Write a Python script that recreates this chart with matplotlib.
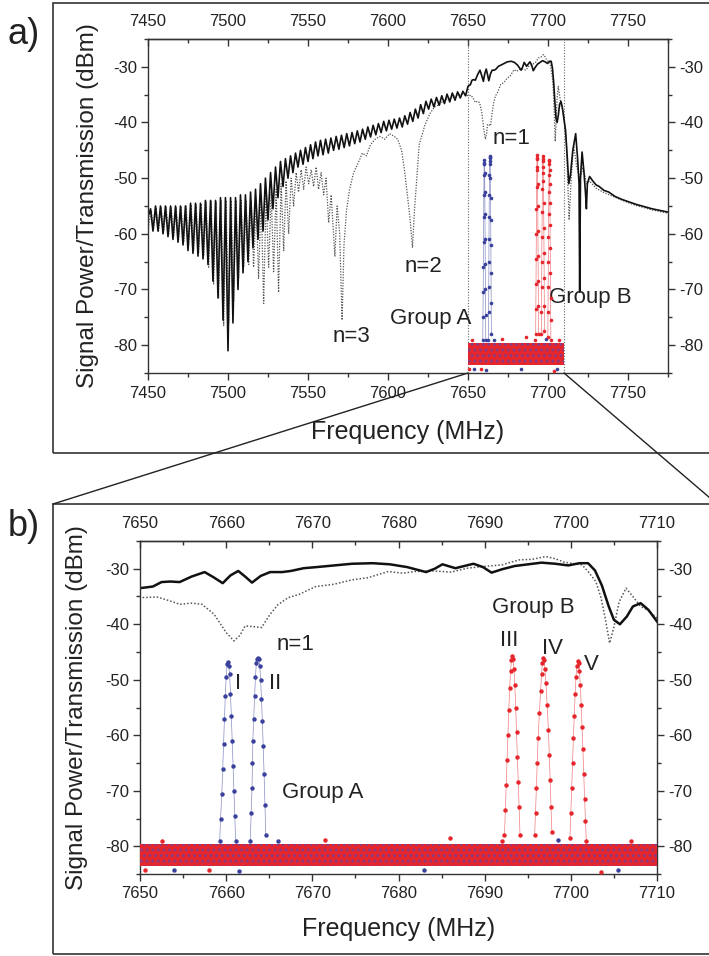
import matplotlib
matplotlib.use("Agg")
import matplotlib.pyplot as plt
from matplotlib.ticker import MultipleLocator, FixedLocator
from matplotlib.patches import Rectangle, ConnectionPatch

plt.rcParams["font.family"] = ["Liberation Sans", "DejaVu Sans"]
plt.rcParams["axes.unicode_minus"] = False
plt.rcParams["hatch.linewidth"] = 1.3

# signal power (solid) -- fringe maxima/minima, detail from panel b
solid_freq = [
    7450.0, 7451.6, 7453.1, 7454.7, 7456.25, 7457.8, 7459.4, 7460.9, 7462.5, 7464.1,
    7465.6, 7467.2, 7468.75, 7470.3, 7471.9, 7473.4, 7475.0, 7476.6, 7478.1, 7479.7,
    7481.25, 7482.8, 7484.4, 7485.9, 7487.5, 7489.1, 7490.6, 7492.2, 7493.75, 7495.3,
    7496.9, 7498.4, 7500.0, 7501.6, 7503.1, 7504.7, 7506.25, 7507.8, 7509.4, 7510.9,
    7512.5, 7514.1, 7515.6, 7517.2, 7518.75, 7520.3, 7521.9, 7523.4, 7525.0, 7526.6,
    7528.1, 7529.7, 7531.25, 7532.8, 7534.4, 7535.9, 7537.5, 7539.1, 7540.6, 7542.2,
    7543.75, 7545.3, 7546.9, 7548.4, 7550.0, 7551.6, 7553.1, 7554.7, 7556.25, 7557.8,
    7559.4, 7561.0, 7562.7, 7564.3, 7566.0, 7567.6, 7569.3, 7570.9, 7572.6, 7574.2,
    7575.9, 7577.5, 7579.2, 7580.8, 7582.5, 7584.1, 7585.8, 7587.4, 7589.1, 7590.7,
    7592.4, 7594.0, 7595.7, 7597.3, 7599.0, 7600.6, 7602.3, 7603.9, 7605.6, 7607.2,
    7608.9, 7610.5, 7612.2, 7613.8, 7615.5, 7617.1, 7618.8, 7620.4, 7622.1, 7623.7,
    7625.4, 7627.0, 7628.7, 7630.3, 7632.0, 7633.6, 7635.3, 7636.9, 7638.6, 7640.2,
    7641.9, 7643.5, 7645.2, 7646.8, 7648.5, 7650.0, 7651.5, 7652.5, 7653.5, 7654.6,
    7656.0, 7657.5, 7658.5, 7659.6, 7660.5, 7661.4, 7662.2, 7663.0, 7664.0, 7665.1,
    7666.5, 7667.5, 7669.0, 7670.5, 7672.5, 7674.6, 7677.0, 7679.0, 7681.0, 7683.2,
    7684.2, 7685.1, 7686.6, 7688.7, 7689.8, 7690.8, 7692.0, 7693.5, 7695.0, 7696.6,
    7698.2, 7699.7, 7701.0, 7702.0, 7702.8, 7703.6, 7704.4, 7705.0, 7705.7, 7706.5,
    7707.2, 7708.1, 7709.0, 7710.0, 7711.0, 7712.2, 7713.0, 7714.0, 7715.5, 7717.3,
    7718.5, 7719.4, 7719.8, 7720.3, 7721.3, 7722.5, 7723.5, 7724.0, 7724.6, 7726.0,
    7728.0, 7730.0, 7732.0, 7735.0, 7738.0, 7742.0, 7746.0, 7750.0, 7755.0, 7760.0,
    7765.0, 7770.0, 7775.0,
]
solid_db = [
    -57.0, -55.5, -59.5, -55.0, -59.5, -55.0, -60.0, -55.0, -60.5, -55.0,
    -61.0, -55.0, -61.5, -55.0, -62.0, -55.0, -63.0, -54.5, -63.5, -54.5,
    -64.0, -54.5, -64.5, -54.0, -65.5, -54.0, -68.5, -54.0, -71.5, -53.5,
    -75.5, -53.5, -81.0, -53.5, -76.0, -53.5, -70.0, -53.0, -67.0, -53.0,
    -65.0, -52.5, -62.5, -52.0, -61.0, -51.0, -59.5, -50.0, -57.5, -49.0,
    -55.5, -48.0, -53.5, -47.0, -51.5, -46.5, -50.0, -46.0, -49.0, -45.5,
    -48.0, -45.0, -47.5, -44.5, -47.0, -44.0, -46.5, -43.5, -46.0, -43.2,
    -45.8, -43.0, -45.5, -42.8, -45.0, -42.5, -44.8, -42.3, -44.5, -42.0,
    -44.2, -41.8, -43.8, -41.5, -43.5, -41.2, -43.0, -40.8, -42.6, -40.5,
    -42.2, -40.2, -41.8, -39.8, -41.5, -39.6, -41.2, -39.4, -41.0, -39.2,
    -40.8, -38.8, -40.3, -38.2, -39.8, -37.6, -39.2, -36.8, -38.4, -36.2,
    -37.6, -35.8, -37.2, -35.5, -36.9, -35.2, -36.6, -34.9, -36.3, -34.7,
    -36.0, -34.5, -35.6, -34.4, -35.2, -33.5, -33.2, -32.4, -32.3, -32.4,
    -31.4, -30.6, -31.5, -32.6, -31.2, -30.4, -31.4, -32.5, -31.3, -30.6,
    -30.6, -30.4, -29.9, -29.7, -29.4, -29.1, -29.0, -29.2, -29.7, -30.6,
    -30.0, -29.2, -29.9, -29.1, -29.7, -30.7, -30.1, -29.5, -29.2, -28.9,
    -29.1, -29.4, -29.0, -29.0, -30.3, -33.0, -36.8, -39.2, -40.0, -38.6,
    -36.8, -36.2, -37.4, -39.5, -41.5, -47.0, -51.0, -49.5, -45.0, -42.0,
    -46.5, -51.0, -70.5, -50.0, -45.3, -49.0, -53.0, -55.5, -51.0, -49.7,
    -50.5, -51.2, -51.5, -52.2, -52.5, -53.3, -53.8, -54.2, -54.7, -55.1,
    -55.5, -55.8, -56.1,
]

# transmission (dotted)
trans_freq = [
    7450.4, 7452.0, 7453.5, 7455.1, 7456.6, 7458.2, 7459.8, 7461.3, 7462.9, 7464.5,
    7466.0, 7467.6, 7469.1, 7470.7, 7472.3, 7473.8, 7475.4, 7477.0, 7478.5, 7480.1,
    7481.6, 7483.2, 7484.8, 7486.3, 7487.9, 7489.5, 7491.0, 7492.6, 7494.1, 7495.7,
    7497.3, 7498.8, 7500.4, 7502.0, 7503.5, 7505.1, 7506.6, 7508.2, 7509.8, 7511.3,
    7512.9, 7514.5, 7516.0, 7517.6, 7519.1, 7520.7, 7522.3, 7523.8, 7525.4, 7527.0,
    7528.5, 7530.1, 7531.6, 7533.2, 7534.8, 7536.3, 7537.9, 7539.5, 7541.0, 7542.6,
    7544.1, 7545.7, 7547.3, 7548.8, 7550.4, 7552.0, 7553.5, 7555.1, 7556.6, 7558.2,
    7559.8, 7561.3, 7562.9, 7564.5, 7566.8, 7568.2, 7569.8, 7571.3, 7572.5, 7574.0,
    7576.0, 7578.5, 7581.0, 7584.0, 7586.5, 7589.0, 7592.0, 7595.0, 7598.0, 7601.0,
    7604.0, 7606.0, 7608.5, 7610.5, 7612.5, 7614.0, 7615.3, 7616.5, 7618.0, 7619.5,
    7621.0, 7623.0, 7626.0, 7629.0, 7632.0, 7635.0, 7638.0, 7641.0, 7644.0, 7647.0,
    7650.0, 7652.0, 7653.5, 7654.6, 7656.0, 7657.2, 7658.6, 7660.0, 7660.9, 7661.6,
    7662.2, 7663.0, 7664.1, 7665.1, 7666.0, 7667.2, 7668.5, 7670.4, 7672.5, 7674.6,
    7676.5, 7678.8, 7680.5, 7681.9, 7684.0, 7686.1, 7688.0, 7689.8, 7692.0, 7694.0,
    7695.5, 7697.1, 7698.2, 7699.2, 7701.3, 7702.0, 7702.9, 7703.5, 7704.0, 7704.5,
    7705.0, 7705.6, 7706.4, 7707.2, 7708.1, 7709.0, 7710.0, 7711.5, 7712.5, 7713.2,
    7714.5, 7716.0, 7718.0, 7720.0, 7722.0, 7724.0, 7726.0, 7730.0, 7735.0, 7740.0,
    7745.0, 7750.0, 7755.0, 7760.0, 7765.0, 7770.0, 7775.0,
]
trans_db = [
    -58.5, -55.8, -59.0, -55.3, -59.5, -55.2, -59.5, -55.2, -60.0, -55.2,
    -60.5, -55.2, -61.0, -55.2, -61.5, -55.0, -62.0, -54.8, -63.0, -54.8,
    -63.5, -54.6, -64.0, -54.3, -66.0, -54.2, -69.0, -54.2, -71.5, -54.0,
    -76.5, -54.0, -76.0, -54.0, -72.0, -54.0, -68.0, -54.0, -66.0, -54.0,
    -65.5, -54.0, -66.0, -54.0, -68.0, -53.5, -72.5, -53.0, -66.0, -52.5,
    -67.0, -52.0, -70.5, -51.0, -63.0, -50.5, -60.0, -50.0, -55.0, -49.0,
    -52.5, -48.5, -52.0, -48.0, -51.0, -48.5, -51.5, -48.0, -52.0, -49.0,
    -53.0, -50.0, -58.0, -53.0, -64.0, -55.0, -60.0, -75.5, -62.0, -56.0,
    -52.0, -49.0, -47.5, -45.5, -46.0, -44.0, -43.0, -42.5, -43.0, -42.0,
    -42.5, -43.0, -45.0, -49.0, -54.0, -58.0, -62.5, -56.0, -50.0, -44.0,
    -42.5, -40.5, -38.5, -37.2, -36.8, -36.0, -35.7, -35.3, -35.0, -34.9,
    -35.2, -35.1, -35.8, -36.4, -36.2, -36.4, -38.2, -41.5, -43.0, -42.0,
    -40.3, -40.4, -40.6, -38.2, -36.5, -35.2, -34.6, -33.2, -32.8, -32.0,
    -31.6, -30.5, -30.8, -30.5, -30.4, -30.6, -29.9, -29.6, -29.3, -28.4,
    -28.3, -27.8, -28.2, -28.8, -29.3, -30.5, -32.3, -35.2, -39.0, -43.4,
    -40.5, -36.0, -33.5, -35.0, -36.8, -37.5, -38.9, -44.0, -52.0, -57.5,
    -50.0, -44.0, -48.0, -50.0, -48.0, -51.0, -50.5, -51.8, -52.6, -53.2,
    -53.8, -54.4, -54.9, -55.3, -55.7, -56.0, -56.3,
]

# resonance sweeps, group A (blue) and group B (red)
peak1_freq = [7659.25, 7659.35, 7659.5, 7659.6, 7659.7, 7659.8, 7659.9, 7660.0, 7660.1, 7660.2,
              7660.3, 7660.4, 7660.5, 7660.6, 7660.7, 7660.8, 7660.9, 7661.0, 7661.1]
peak1_db = [-79.0, -75.0, -70.5, -66.0, -61.5, -57.0, -53.0, -49.5, -47.2, -46.8,
            -47.5, -49.0, -52.5, -56.5, -61.0, -65.5, -70.0, -74.5, -79.0]
peak2_freq = [7662.8, 7662.9, 7663.0, 7663.05, 7663.1, 7663.2, 7663.3, 7663.4, 7663.5, 7663.6,
              7663.7, 7663.8, 7663.9, 7664.0, 7664.1, 7664.2, 7664.3, 7664.4, 7664.5, 7664.6]
peak2_db = [-79.0, -74.0, -69.5, -65.0, -61.0, -57.0, -53.0, -49.5, -47.0, -46.2,
            -46.0, -46.3, -47.5, -50.0, -53.5, -57.5, -62.0, -67.0, -72.5, -78.0]
peak3_freq = [7692.3, 7692.4, 7692.5, 7692.6, 7692.7, 7692.8, 7692.9, 7693.0, 7693.1, 7693.2,
              7693.3, 7693.4, 7693.5, 7693.6, 7693.7, 7693.8, 7693.9, 7694.0, 7694.1]
peak3_db = [-78.0, -73.5, -69.0, -64.5, -60.0, -55.5, -51.5, -48.5, -46.5, -45.8,
            -46.3, -48.0, -51.0, -55.0, -59.5, -64.0, -68.5, -73.0, -78.0]
peak4_freq = [7695.8, 7695.9, 7696.0, 7696.1, 7696.2, 7696.35, 7696.5, 7696.6, 7696.7, 7696.8,
              7696.9, 7697.0, 7697.1, 7697.25, 7697.4, 7697.5, 7697.6, 7697.7, 7697.8]
peak4_db = [-78.0, -74.0, -69.5, -65.0, -60.5, -56.0, -52.0, -49.0, -47.0, -46.1,
            -46.5, -48.0, -50.5, -54.5, -59.0, -63.5, -68.0, -73.0, -77.5]
peak5_freq = [7699.9, 7700.0, 7700.1, 7700.2, 7700.3, 7700.4, 7700.5, 7700.6, 7700.7, 7700.8,
              7700.9, 7701.0, 7701.1, 7701.2, 7701.3, 7701.4, 7701.5, 7701.6, 7701.7, 7701.8]
peak5_db = [-78.5, -74.0, -69.5, -65.0, -60.5, -56.5, -52.5, -49.5, -47.5, -46.7,
            -46.9, -48.5, -51.0, -54.5, -58.5, -62.5, -67.0, -71.5, -75.5, -79.0]

# noise floor of the sweeps (band between these levels) and a few stray points
noise_span = [7650.0, 7710.0]
noise_low = -83.6
noise_high = -79.6
stray_red_freq = [7650.6, 7652.5, 7658.0, 7671.5, 7686.0, 7692.0, 7703.5, 7707.0]
stray_red_db = [-84.3, -79.0, -84.2, -78.9, -78.6, -79.0, -84.6, -79.1]
stray_blue_freq = [7654.0, 7661.5, 7666.0, 7683.0, 7698.5, 7705.5]
stray_blue_db = [-84.3, -84.5, -79.1, -84.3, -78.9, -84.2]

# tick values
a_major = [7450, 7500, 7550, 7600, 7650, 7700, 7750]
a_minor = [7475, 7525, 7575, 7625, 7675, 7725, 7775]
b_major = [7650, 7660, 7670, 7680, 7690, 7700, 7710]
b_minor = [7655, 7665, 7675, 7685, 7695, 7705]

labels_a = [("n=1", 7677.5, -42.9), ("n=2", 7622.4, -65.9), ("n=3", 7577.0, -78.4),
            ("Group A", 7626.7, -75.2), ("Group B", 7726.5, -71.4)]
labels_b = [("Group B", 7695.6, -37.0), ("n=1", 7668.1, -43.6), ("I", 7661.4, -50.7),
            ("II", 7665.7, -50.7), ("Group A", 7671.2, -70.4), ("III", 7692.8, -43.0),
            ("IV", 7697.9, -44.4), ("V", 7702.4, -47.3)]

BLUE = "#3a419c"
RED = "#e5262c"
INK = "#222222"
W, H = 709, 956


def px_axes(fig, l, t, r, b):
    return fig.add_axes([l / W, (H - b) / H, (r - l) / W, (b - t) / H])


def style_axes(ax, major, minor):
    ax.set_ylim(-85, -25)
    ax.xaxis.set_major_locator(FixedLocator(major))
    ax.xaxis.set_minor_locator(FixedLocator(minor))
    ax.yaxis.set_major_locator(MultipleLocator(10))
    ax.yaxis.set_minor_locator(MultipleLocator(5))
    ax.tick_params(which="both", direction="out", right=True, labelright=True,
                   labelsize=12, color="#333333", width=1.0, labelcolor=INK)
    ax.tick_params(which="major", length=5)
    ax.tick_params(which="minor", length=3)
    ax.tick_params(axis="x", which="both", pad=4)
    ax.tick_params(axis="y", which="both", pad=3)
    for s in ax.spines.values():
        s.set_color("#333333")
        s.set_linewidth(1.0)

    # top axis: inward ticks, labels above
    top = ax.secondary_xaxis("top")
    top.xaxis.set_major_locator(FixedLocator(major))
    top.xaxis.set_minor_locator(FixedLocator(minor))
    top.tick_params(which="both", direction="in", labelsize=12, color="#333333",
                    width=1.0, labelcolor=INK, pad=7)
    top.tick_params(which="major", length=5)
    top.tick_params(which="minor", length=3)
    top.spines["top"].set_color("#333333")
    top.spines["top"].set_linewidth(1.0)

    ax.set_xlabel("Frequency (MHz)", fontsize=18, color=INK)
    ax.set_ylabel("Signal Power/Transmission (dBm)", fontsize=17.5, color=INK)


def draw_sweeps(ax, ms):
    ax.fill_between(noise_span, noise_low, noise_high, facecolor=RED, edgecolor="#8a3a86",
                    hatch="...", lw=0, zorder=3)
    ax.plot(stray_red_freq, stray_red_db, "o", color=RED, ms=ms, mew=0, zorder=4)
    ax.plot(stray_blue_freq, stray_blue_db, "o", color=BLUE, ms=ms, mew=0, zorder=4)
    for f, d, c in [(peak1_freq, peak1_db, BLUE), (peak2_freq, peak2_db, BLUE),
                    (peak3_freq, peak3_db, RED), (peak4_freq, peak4_db, RED),
                    (peak5_freq, peak5_db, RED)]:
        ax.plot(f, d, "-", color=c, lw=0.5, alpha=0.6, zorder=4)
        ax.plot(f, d, "o", color=c, ms=ms, mew=0, zorder=5)


fig = plt.figure(figsize=(W / 100, H / 100), dpi=100)

# panel frames
for top, bot in [(3, 453), (504, 954)]:
    fig.add_artist(Rectangle((53 / W, (H - bot) / H), 664 / W, (bot - top) / H,
                             transform=fig.transFigure, fill=False, ec="#333333", lw=1.2))
fig.text(24 / W, 1 - 34 / H, "a)", fontsize=26, ha="center", va="center", color=INK)
fig.text(24 / W, 1 - 526 / H, "b)", fontsize=26, ha="center", va="center", color=INK)

# panel a: full spectrum
ax_a = px_axes(fig, 148, 39, 668, 373)
ax_a.set_xlim(7450, 7775)
style_axes(ax_a, a_major, a_minor)
ax_a.plot(trans_freq, trans_db, color="#555555", lw=0.9, ls=(0, (1, 1.2)), zorder=2)
ax_a.plot(solid_freq, solid_db, color="#111111", lw=1.2, zorder=2)
for xv in noise_span:
    ax_a.axvline(xv, color="#666666", lw=0.8, ls=(0, (1, 1.5)), zorder=1)
draw_sweeps(ax_a, 2.6)
for txt, x, y in labels_a:
    ax_a.text(x, y, txt, fontsize=16, ha="center", va="center", color=INK)
ax_a.xaxis.set_label_coords(0.5, -0.14)
ax_a.yaxis.set_label_coords(-0.095, 0.5)

# panel b: zoom on the resonances
ax_b = px_axes(fig, 140, 541, 657, 874)
ax_b.set_xlim(7650, 7710)
style_axes(ax_b, b_major, b_minor)
ax_b.plot(trans_freq, trans_db, color="#555555", lw=1.1, ls=(0, (1, 1.3)), zorder=2)
ax_b.plot(solid_freq, solid_db, color="#111111", lw=1.8, zorder=2)
draw_sweeps(ax_b, 3.2)
for txt, x, y in labels_b:
    ax_b.text(x, y, txt, fontsize=16, ha="center", va="center", color=INK)
ax_b.xaxis.set_label_coords(0.5, -0.13)
ax_b.yaxis.set_label_coords(-0.1, 0.5)

# zoom connector lines
for xv, xfig in [(7650, 53), (7710, 717)]:
    fig.add_artist(ConnectionPatch(xyA=(xv, -85), coordsA=ax_a.transData,
                                   xyB=(xfig / W, (H - 504) / H), coordsB=fig.transFigure,
                                   color=INK, lw=1.0))

fig.savefig("out.png", dpi=100)
